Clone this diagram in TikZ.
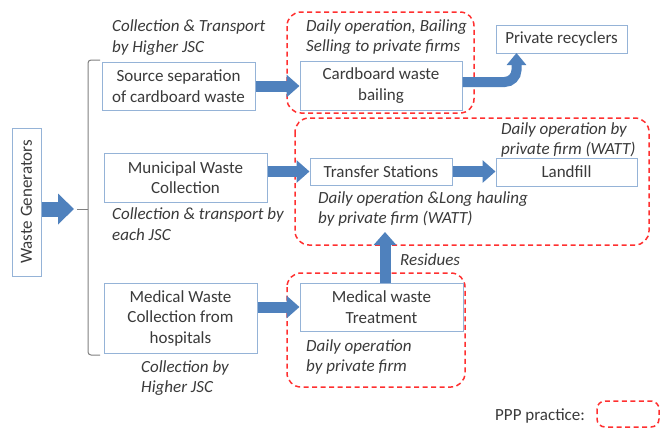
\documentclass[tikz,border=0pt]{standalone}
\usepackage{fontspec}
\setmainfont{Carlito}
\usetikzlibrary{arrows.meta}
\definecolor{boxblue}{HTML}{95B3D7}
\definecolor{arrblue}{HTML}{4F81BD}
\definecolor{pppred}{HTML}{FF3030}
\definecolor{txt}{HTML}{3A3A3A}
\begin{document}
\begin{tikzpicture}[x=1pt,y=-1pt,
 box/.style={draw=boxblue, line width=1pt, fill=white, align=center, inner sep=0pt, text=txt, font=\fontsize{17}{20.5}\selectfont},
 note/.style={align=left, inner sep=0pt, anchor=west, text=txt, font=\fontsize{17}{20.5}\selectfont\itshape},
 ppp/.style={draw=pppred, dash pattern=on 5pt off 3.5pt, line width=1.5pt, rounded corners=14pt},
 bigarrow/.style={draw=arrblue, line width=11pt, -{Triangle[length=13pt,width=22pt]}},
 brk/.style={draw=gray, line width=1pt}
]
\useasboundingbox (0,0) rectangle (662,429);
\fill[white] (0,0) rectangle (662,429);

% PPP regions
\draw[ppp] (287,12) rectangle (474,113);
\draw[ppp] (295,118) rectangle (649,245);
\draw[ppp] (287,273) rectangle (465,387);
\draw[ppp, rounded corners=8pt] (597,401) rectangle (659,427);

% boxes
\node[box, rotate=90, minimum width=148pt, minimum height=29pt] (wg) at (26.5,202) {Waste Generators};
\node[box, minimum width=153pt, minimum height=48pt] (ss) at (178.5,86) {Source separation\\of cardboard waste};
\node[box, minimum width=163pt, minimum height=49pt] (mw) at (185.5,177.5) {Municipal Waste\\Collection};
\node[box, minimum width=153pt, minimum height=70pt] (mc) at (180.5,318) {Medical Waste\\Collection from\\hospitals};
\node[box, minimum width=162pt, minimum height=49pt] (cb) at (381,85.5) {Cardboard waste\\bailing};
\node[box, minimum width=131pt, minimum height=28pt] (pr) at (561.5,39) {Private recyclers};
\node[box, minimum width=142pt, minimum height=27pt] (ts) at (381,171.5) {Transfer Stations};
\node[box, minimum width=141pt, minimum height=28pt] (lf) at (566.5,172) {Landfill};
\node[box, minimum width=163pt, minimum height=48pt] (mt) at (381.5,307) {Medical waste\\Treatment};

% notes
\node[note] (n1) at (112,37.5) {Collection \& Transport\\by Higher JSC};
\node[note] (n2) at (306,37) {Daily operation, Bailing\\Selling to private firms};
\node[note] (n3) at (112,224) {Collection \& transport by\\each JSC};
\node[note] (n4) at (501,140) {Daily operation by\\private firm (WATT)};
\node[note] (n5) at (318,209) {Daily operation \&Long hauling\\by private firm (WATT)};
\node[note] (n6) at (400,260) {Residues};
\node[note] (n7) at (141,378) {Collection by\\Higher JSC};
\node[note] (n8) at (306,357) {Daily operation\\by private firm};
\node[note, font=\fontsize{17}{20}\selectfont] (lg) at (495,416) {PPP practice:};

% bracket
\coordinate (bk) at (88,209);
\coordinate (bkend) at (74,209);
\draw[brk, rounded corners=3pt] (100,60) -- (88,60) -- (88,355) -- (100,355);
\draw[brk] (bk) -- (77,209);

% arrows
\draw[bigarrow, line width=15pt, -{Triangle[length=16pt,width=30pt]}] (wg.south |- bkend) -- (bkend);
\draw[bigarrow] (ss.east) -- (ss.east -| cb.west);
\draw[bigarrow] (mw.east |- ts.west) -- (ts.west);
\draw[bigarrow] (mc.east |- mt.west) -- (mt.west);
\draw[bigarrow] (ts.east) -- (ts.east -| lf.west);
\coordinate (up) at (385,232);
\draw[bigarrow] ([xshift=3.5pt]mt.north) -- (up);
\coordinate (prin) at (516.5,53);
\draw[bigarrow, line width=10pt, -{Triangle[length=12pt,width=19pt]}, rounded corners=12pt] ([yshift=3.5pt]cb.east) -| (prin);
\end{tikzpicture}
\end{document}
